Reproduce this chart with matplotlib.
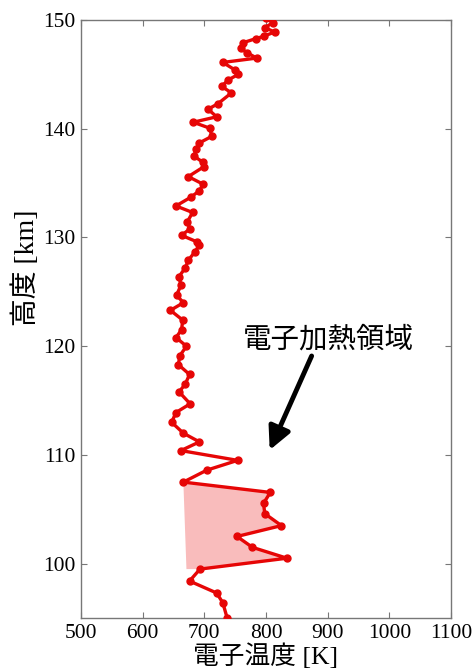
import numpy as np
import matplotlib
matplotlib.use("Agg")
import matplotlib.pyplot as plt

# 高度 [km] と 電子温度 [K]
height = [150.2, 149.75, 149.3, 148.9, 148.5, 148.3, 147.9, 147.4, 147.0, 146.5,
          146.1, 145.4, 145.0, 144.5, 143.9, 143.3, 142.3, 141.8, 141.1, 140.6,
          140.05, 139.3, 138.7, 138.1, 137.5, 136.9, 136.5, 135.6, 134.9, 134.3,
          133.7, 132.9, 132.3, 131.4, 130.8, 130.2, 129.6, 129.3, 128.7, 127.9,
          127.2, 126.4, 125.6, 124.7, 124.0, 123.3, 122.4, 121.5, 120.8, 120.0,
          119.1, 118.3, 117.4, 116.5, 115.8, 114.7, 113.9, 113.0, 112.0, 111.2,
          110.4, 109.5, 108.6, 107.5, 106.55, 105.55, 104.6, 103.5, 102.5, 101.5,
          100.5, 99.5, 98.4, 97.3, 96.4, 95.0]
temp = [800, 811, 798, 814, 796, 784, 762, 759, 769, 785,
        730, 750, 755, 739, 728, 744, 722, 706, 720, 682,
        709, 712, 692, 687, 683, 698, 699, 674, 698, 692,
        678, 654, 681, 672, 677, 663, 688, 692, 685, 674,
        669, 659, 662, 655, 666, 645, 665, 663, 654, 671,
        660, 658, 676, 669, 659, 677, 654, 647, 666, 692,
        662, 754, 704, 666, 807, 796, 798, 825, 753, 778,
        834, 693, 676, 720, 730, 737]

# 加熱領域（塗りつぶし範囲）
heat_top = 107.5
heat_bottom = 99.5
heat_base_temp = 671

xticks = [500, 600, 700, 800, 900, 1000, 1100]
yticks = [100, 110, 120, 130, 140, 150]

h = np.array(height)
t = np.array(temp)

fig = plt.figure(figsize=(4.77, 6.70), dpi=100)
ax = fig.add_axes([0.1698, 0.0776, 0.7757, 0.8925])

sel = (h <= heat_top) & (h >= heat_bottom)
poly_t = list(t[sel]) + [heat_base_temp]
poly_h = list(h[sel]) + [heat_bottom]
ax.fill(poly_t, poly_h, color='#f9bcbc', lw=0, zorder=1)

ax.plot(t, h, '-o', color='#e60606', lw=2.4, ms=5, zorder=3)

ax.set_xlim(500, 1100)
ax.set_ylim(95, 150)
ax.set_xticks(xticks)
ax.set_yticks(yticks)
ax.tick_params(direction='in', length=4, width=0.8, color='#777777',
               top=True, right=True, labelsize=15.5, pad=4)
for lab in ax.get_xticklabels() + ax.get_yticklabels():
    lab.set_family('Liberation Serif')
for sp in ax.spines.values():
    sp.set_color('#777777')
    sp.set_linewidth(1.0)

lab_font = ['Liberation Serif', 'Noto Sans CJK JP']
ax.set_xlabel('電子温度 [K]', family=lab_font, fontsize=18.5, va='top')
ax.xaxis.set_label_coords(0.5, -0.042)
ax.set_ylabel('高度 [km]', family=lab_font, fontsize=20)
ax.yaxis.set_label_coords(-0.112, 0.585)

ax.annotate('', xy=(806, 110.45), xytext=(874, 119.1),
            arrowprops=dict(arrowstyle='-|>', color='black', lw=3.5,
                            mutation_scale=34, shrinkA=0, shrinkB=0))
ax.text(901, 120.6, '電子加熱領域', family=['Noto Sans CJK JP', 'DejaVu Sans'],
        fontsize=20.5, ha='center', va='center')

fig.savefig('out.png', dpi=100)
